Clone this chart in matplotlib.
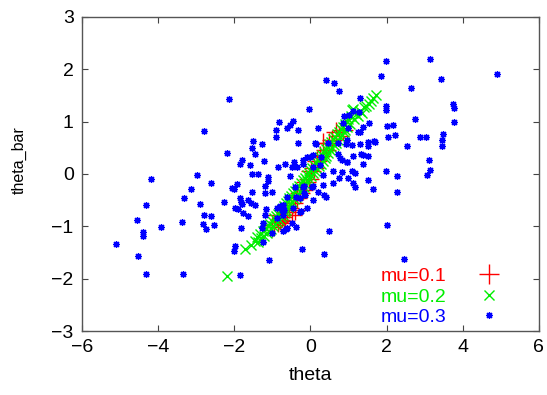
import numpy as np
import matplotlib.pyplot as plt

plt.rcParams['font.family'] = ['Liberation Sans', 'DejaVu Sans']

# mu=0.1 estimates (red +)
red_x = [-1.00, -0.95, -0.88, -0.85, -0.80, -0.75, -0.70, -0.67, -0.62, -0.55,
         -0.49, -0.46, -0.41, -0.35, -0.27, -0.20, -0.12, -0.05, 0.02, 0.10,
         0.18, 0.25, 0.33, 0.40, 0.50, 0.58, 0.67, 0.75, 0.85]
red_y = [-1.02, -0.98, -0.78, -0.92, -0.88, -0.82, -0.90, -0.93, -0.72, -0.65,
         -0.78, -0.55, -0.69, -0.45, -0.36, -0.30, -0.15, -0.10, 0.05, 0.12,
         0.25, 0.35, 0.59, 0.45, 0.60, 0.65, 0.81, 0.72, 0.85]

# mu=0.2 estimates (green x)
green_x = [-2.19, -1.71, -1.55, -1.45, -1.41, -1.38, -1.32, -1.29, -1.25, -1.22,
           -1.18, -1.15, -1.12, -1.10, -1.06, -1.03, -1.00, -0.98, -0.95, -0.93,
           -0.90, -0.88, -0.85, -0.83, -0.80, -0.78, -0.75, -0.73, -0.70, -0.68,
           -0.65, -0.63, -0.60, -0.58, -0.55, -0.53, -0.50, -0.48, -0.45, -0.43,
           -0.40, -0.38, -0.35, -0.33, -0.30, -0.28, -0.25, -0.23, -0.20, -0.18,
           -0.15, -0.13, -0.10, -0.08, -0.05, -0.03, 0.00, 0.02, 0.05, 0.07,
           0.10, 0.12, 0.15, 0.17, 0.20, 0.22, 0.25, 0.27, 0.30, 0.32,
           0.35, 0.37, 0.40, 0.42, 0.45, 0.47, 0.50, 0.52, 0.55, 0.57,
           0.60, 0.62, 0.65, 0.67, 0.70, 0.72, 0.75, 0.77, 0.80, 0.82,
           0.85, 0.87, 0.90, 0.92, 0.95, 0.97, 1.00, 1.03, 1.06, 1.08,
           1.12, 1.15, 1.20, 1.25, 1.30, 1.36, 1.40, 1.45, 1.53, 1.58,
           1.65, 1.71]
green_y = [-1.95, -1.44, -1.35, -1.28, -1.21, -1.30, -1.15, -1.22, -1.08, -1.18,
           -1.05, -1.12, -0.98, -1.08, -0.95, -1.05, -0.90, -1.00, -0.85, -0.96,
           -0.80, -0.92, -0.76, -0.88, -0.70, -0.82, -0.66, -0.78, -0.62, -0.72,
           -0.56, -0.68, -0.52, -0.63, -0.46, -0.58, -0.42, -0.54, -0.36, -0.48,
           -0.32, -0.44, -0.27, -0.38, -0.22, -0.34, -0.17, -0.29, -0.12, -0.24,
           -0.08, -0.19, -0.02, -0.14, 0.02, -0.09, 0.07, -0.04, 0.12, 0.01,
           0.17, 0.05, 0.22, 0.10, 0.27, 0.15, 0.32, 0.20, 0.37, 0.25,
           0.42, 0.30, 0.47, 0.35, 0.52, 0.40, 0.57, 0.45, 0.62, 0.50,
           0.66, 0.55, 0.71, 0.60, 0.76, 0.65, 0.81, 0.70, 0.86, 0.75,
           0.90, 0.80, 0.95, 0.85, 1.00, 0.90, 1.05, 0.95, 1.10, 1.22,
           1.25, 1.05, 1.15, 1.10, 1.20, 1.16, 1.28, 1.30, 1.33, 1.40,
           1.45, 1.51]

# mu=0.3 estimates (blue *)
blue_x = [-2.14, -0.04, -2.79, -0.83, -0.46, -0.54, -0.61, -0.91, -0.91, -0.32,
          -1.50, -1.26, -0.32, 0.12, -1.53, -1.45, -2.20, -1.80, -1.85, -1.60,
          -1.22, -0.85, -0.67, -0.43, -0.49, -0.35, -1.53, -1.37, -1.11, -0.53,
          -2.97, -4.18,
          1.98, 3.15, 4.90, 1.86, 3.42, 0.42, 0.61, 0.76, 2.63, 1.29,
          1.98, 1.98, 3.75, 3.78, 3.78, 2.74, 0.87, 1.02, 1.11, 1.27,
          1.54, 1.37, 1.25, 0.86, 0.19, 2.01, 2.17, 2.05, 2.23, 2.87,
          3.03, 3.48, 3.45, 3.46, 2.53, 1.68, 1.50, 1.50, 1.30, 1.10,
          0.93, 0.15, 1.37, 1.52, 1.12, 1.37, 3.12, 3.15, 3.05, 1.99,
          2.28, 1.50, 1.09, 1.18, 1.00, 0.76, 0.95, 0.77, 0.60, 0.33,
          1.64, 2.28, 1.12, 1.18, 0.35, 0.21, 0.07, -0.10, -0.25, 0.48,
          -0.23, 0.35, 2.01, 2.45,
          -2.62, -3.15, -3.32, -4.32, -2.89, -2.26, -4.55, -3.37, -2.79, -2.61,
          -2.82, -2.75, -2.54, -3.93, -4.39, -4.41, -5.11, -4.52, -4.31, -3.36,
          -1.86, -2.02, -1.97, -1.82, -2.06, -2.00, -1.92, -1.86, -1.83, -1.79,
          -1.99, -1.91, -1.77, -1.65, -1.63, -1.57, -1.45, -1.54, -1.12, -1.19,
          -1.20, -1.02, -1.18, -1.24, -1.10, -0.48, -0.38, -0.63, -0.73, -0.27,
          -0.61, -0.37, -0.18, 0.06, -0.17, -0.72, -0.70,
          -0.19, 0.07, -0.41, -0.19, 0.03, -0.14, -0.80, -0.45, -1.19, -0.71,
          -0.88, -0.62, -1.28, -1.02, 0.99, 1.30, 1.69, 0.95, 0.73, 1.34,
          0.95, 0.82, 0.73, 0.47, 0.29, 0.07, -0.10, -0.19, 0.82, -0.01,
          0.25, 0.34, 0.60, 0.42, -0.27, -0.88, -0.71, -0.75, -1.24]
blue_y = [1.43, 1.25, 0.82, 0.99, 1.02, 0.94, 0.87, 0.84, 0.71, 0.84,
          0.64, 0.57, 0.60, 0.59, 0.49, 0.39, 0.40, 0.27, 0.20, 0.18,
          0.24, 0.13, 0.20, 0.23, 0.14, 0.14, 0.00, 0.00, -0.05, -0.03,
          -0.01, -0.10,
          2.15, 2.19, 1.92, 1.88, 1.82, 1.80, 1.74, 1.58, 1.65, 1.46,
          1.30, 1.23, 1.33, 1.26, 0.99, 1.05, 1.10, 1.12, 1.20, 1.18,
          0.97, 0.90, 0.80, 0.98, 0.88, 0.92, 0.94, 0.71, 0.75, 0.70,
          0.70, 0.77, 0.65, 0.53, 0.53, 0.63, 0.61, 0.54, 0.58, 0.55,
          0.58, 0.58, 0.36, 0.34, 0.34, 0.20, 0.26, 0.08, -0.01, 0.05,
          -0.04, -0.11, 0.06, 0.01, -0.07, -0.07, 0.22, 0.30, 0.06, -0.02,
          -0.29, -0.34, -0.18, -0.24, -0.40, -0.34, -0.50, -0.65, -0.71, -1.09,
          -1.44, -1.52, -0.97, -1.62,
          -0.18, -0.29, -0.46, -0.59, -0.57, -0.53, -0.88, -0.91, -0.78, -0.81,
          -0.95, -1.05, -0.97, -1.02, -1.11, -1.18, -1.34, -1.57, -1.92, -1.92,
          -1.93, -1.48, -1.38, -1.04, -0.27, -0.29, -0.19, -0.46, -0.54, -0.58,
          -0.65, -0.67, -0.74, -0.81, -0.50, -0.55, -0.60, -0.34, -0.13, -0.22,
          -0.37, -0.34, -0.67, -1.29, -1.64, -0.93, -1.01, -1.05, -1.09, -0.72,
          -0.43, -0.43, -0.23, -0.23, -0.36, -0.59, -0.69,
          0.20, 0.14, -0.24, -0.24, -0.24, -0.40, -0.62, -0.65, -0.78, -0.78,
          -0.85, -1.04, -1.04, -1.12, 0.87, 0.81, 0.62, 0.65, 0.59, 0.39,
          0.23, 0.27, 0.39, 0.59, 0.33, 0.36, 0.33, 0.27, 0.04, 0.33,
          0.17, -0.21, -0.18, -0.43, -0.46, -0.65, -0.59, -0.69, -0.94]

fig, ax = plt.subplots(figsize=(5.47, 3.95), dpi=100)
fig.subplots_adjust(left=0.150, right=0.985, top=0.957, bottom=0.162)

ax.plot(red_x, red_y, linestyle='none', marker='+', color='#ff0000',
        ms=14, mew=1.0, label='mu=0.1')
ax.plot(green_x, green_y, linestyle='none', marker='x', color='#00ee00',
        ms=7, mew=1.0, label='mu=0.2')
ax.plot(blue_x, blue_y, linestyle='none', marker=(8, 2, 0), color='#0000ff',
        ms=5, mew=0.9, label='mu=0.3')

ax.set_xlim(-6, 6)
ax.set_ylim(-3, 3)
ax.set_xticks([-6, -4, -2, 0, 2, 4, 6])
ax.set_yticks([-3, -2, -1, 0, 1, 2, 3])
ax.tick_params(direction='in', length=4, width=0.8, top=True, right=True,
               labelsize=14, pad=6, color='#444444')
for s in ax.spines.values():
    s.set_color('#555555')
    s.set_linewidth(1.0)

ax.set_xlabel('theta', fontsize=14, labelpad=8)
ax.set_ylabel('theta_bar', fontsize=11.5)
ax.yaxis.set_label_coords(-0.120, 0.545)

ax.legend(loc='lower right', bbox_to_anchor=(0.963, -0.04), frameon=False,
          markerfirst=False, labelcolor='linecolor', fontsize=14,
          handlelength=1.6, handletextpad=1.4, labelspacing=0.15)

plt.savefig('out.png')
